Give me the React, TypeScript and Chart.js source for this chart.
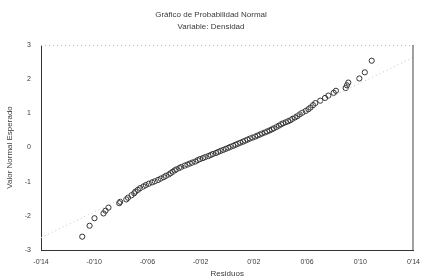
import React, { useEffect, useRef } from "react";
import { Chart, registerables } from "chart.js";

Chart.register(...registerables);

const titleText = "Gráfico de Probabilidad Normal";
const subtitleText = "Variable: Densidad";
const xAxisTitle = "Residuos";
const yAxisTitle = "Valor Normal Esperado";

const xTickValues = [-0.14, -0.1, -0.06, -0.02, 0.02, 0.06, 0.1, 0.14];
const xTickLabels = ["-0'14", "-0'10", "-0'06", "-0'02", "0'02", "0'06", "0'10", "0'14"];
const yTickValues = [-3, -2, -1, 0, 1, 2, 3];
const yTickLabels = ["-3", "-2", "-1", "0", "1", "2", "3"];

const residuals = [
  -0.109, -0.1035, -0.0998, -0.093, -0.0915, -0.0893, -0.0812, -0.0805, -0.0759, -0.0746,
  -0.072, -0.07, -0.069, -0.0672, -0.0655, -0.063, -0.0612, -0.059, -0.0565, -0.0545,
  -0.052, -0.05, -0.0478, -0.0462, -0.044, -0.0425, -0.041, -0.0395, -0.0382, -0.036,
  -0.0345, -0.032, -0.03, -0.0281, -0.0262, -0.024, -0.0222, -0.0205, -0.0183, -0.0165,
  -0.0142, -0.0125, -0.0108, -0.0085, -0.0068, -0.005, -0.003, -0.0011, 0.0008, 0.0025,
  0.0045, 0.0062, 0.008, 0.0098, 0.0118, 0.0135, 0.0152, 0.017, 0.019, 0.021,
  0.0228, 0.0245, 0.0262, 0.0283, 0.03, 0.0318, 0.0335, 0.035, 0.037, 0.0388,
  0.0405, 0.042, 0.044, 0.0458, 0.0475, 0.049, 0.051, 0.0527, 0.0545, 0.0565,
  0.059, 0.061, 0.0626, 0.0645, 0.0662, 0.0699, 0.0735, 0.076, 0.08, 0.0817,
  0.089, 0.09, 0.091, 0.0993, 0.1034, 0.1086,
];
const expectedNormal = [
  -2.61, -2.29, -2.07, -1.93, -1.85, -1.76, -1.63, -1.59, -1.52, -1.47,
  -1.4, -1.34, -1.29, -1.24, -1.19, -1.14, -1.1, -1.06, -1.02, -0.99,
  -0.95, -0.91, -0.87, -0.83, -0.79, -0.75, -0.71, -0.67, -0.64, -0.6,
  -0.57, -0.53, -0.5, -0.47, -0.44, -0.41, -0.37, -0.34, -0.31, -0.28,
  -0.25, -0.22, -0.19, -0.16, -0.13, -0.1, -0.07, -0.04, -0.01, 0.02,
  0.05, 0.08, 0.11, 0.14, 0.17, 0.2, 0.23, 0.26, 0.29, 0.32,
  0.35, 0.38, 0.41, 0.44, 0.47, 0.5, 0.53, 0.56, 0.6, 0.64,
  0.68, 0.71, 0.74, 0.77, 0.8, 0.84, 0.88, 0.92, 0.97, 1.02,
  1.07, 1.12, 1.17, 1.24, 1.3, 1.37, 1.45, 1.52, 1.6, 1.66,
  1.74, 1.82, 1.9, 2.02, 2.2, 2.54,
];

const refLineX = [-0.14, 0.14];
const refLineY = [-2.64, 2.64];

const FONT = "'Liberation Sans', Arial, sans-serif";
const TEXT = "#3a3a3a";

const framePlugin = {
  id: "frame",
  afterDraw(chart: any) {
    const { ctx, chartArea } = chart;
    ctx.save();
    ctx.strokeStyle = "#bbbbbb";
    ctx.lineWidth = 1;
    ctx.setLineDash([1, 3]);
    ctx.beginPath();
    ctx.moveTo(chartArea.left, chartArea.top + 0.5);
    ctx.lineTo(chartArea.right, chartArea.top + 0.5);
    ctx.stroke();
    ctx.setLineDash([]);
    ctx.strokeStyle = "#444444";
    ctx.beginPath();
    ctx.moveTo(chartArea.right - 0.5, chartArea.top);
    ctx.lineTo(chartArea.right - 0.5, chartArea.bottom);
    ctx.stroke();
    ctx.restore();
  },
};

export default function App() {
  const ref = useRef<HTMLCanvasElement | null>(null);

  useEffect(() => {
    document.body.style.margin = "0";
    const canvas = ref.current;
    if (!canvas) return;
    const points = residuals.map((x, i) => ({ x, y: expectedNormal[i] }));
    const line = refLineX.map((x, i) => ({ x, y: refLineY[i] }));
    const chart = new Chart(canvas, {
      type: "scatter",
      data: {
        datasets: [
          {
            data: line,
            showLine: true,
            borderColor: "#c4c4c4",
            borderWidth: 1,
            borderDash: [1, 3],
            pointRadius: 0,
            fill: false,
          },
          {
            data: points,
            pointRadius: 2.6,
            pointBorderWidth: 1,
            pointBorderColor: "#333333",
            pointBackgroundColor: "rgba(255,255,255,0)",
            borderColor: "#333333",
          },
        ],
      },
      options: {
        animation: false,
        responsive: false,
        layout: { padding: { left: 0, right: 6, top: 0, bottom: 0 } },
        plugins: {
          legend: { display: false },
          tooltip: { enabled: false },
          title: {
            display: true,
            text: titleText,
            color: TEXT,
            font: { family: FONT, size: 8, weight: "normal" },
            padding: { top: 10, bottom: 2 },
          },
          subtitle: {
            display: true,
            text: subtitleText,
            color: TEXT,
            font: { family: FONT, size: 8, weight: "normal" },
            padding: { top: 0, bottom: 13.8 },
          },
        },
        scales: {
          x: {
            type: "linear",
            min: -0.14,
            max: 0.14,
            afterBuildTicks: (scale: any) => {
              scale.ticks = xTickValues.map((v) => ({ value: v }));
            },
            afterFit: (scale: any) => {
              scale.height = 29;
            },
            ticks: {
              color: TEXT,
              font: { family: FONT, size: 7 },
              padding: 8,
              maxRotation: 0,
              autoSkip: false,
              callback: (v: any) => {
                const i = xTickValues.findIndex((t) => Math.abs(t - v) < 1e-9);
                return i >= 0 ? xTickLabels[i] : "";
              },
            },
            grid: { display: false, drawTicks: false },
            border: { display: true, color: "#333333", width: 1 },
            title: {
              display: true,
              text: xAxisTitle,
              color: TEXT,
              font: { family: FONT, size: 8 },
              padding: { top: 0, bottom: 0 },
            },
          },
          y: {
            type: "linear",
            min: -3,
            max: 3,
            afterBuildTicks: (scale: any) => {
              scale.ticks = yTickValues.map((v) => ({ value: v }));
            },
            afterFit: (scale: any) => {
              scale.width = 41;
            },
            ticks: {
              color: TEXT,
              font: { family: FONT, size: 7 },
              padding: 10,
              autoSkip: false,
              callback: (v: any) => {
                const i = yTickValues.findIndex((t) => Math.abs(t - v) < 1e-9);
                return i >= 0 ? yTickLabels[i] : "";
              },
            },
            grid: { display: false, drawTicks: false },
            border: { display: true, color: "#333333", width: 1 },
            title: {
              display: true,
              text: yAxisTitle,
              color: TEXT,
              font: { family: FONT, size: 8 },
              padding: { top: 5, bottom: 0 },
            },
          },
        },
      },
      plugins: [framePlugin],
    } as any);
    return () => chart.destroy();
  }, []);

  return (
    <div style={{ position: "absolute", left: 0, top: 0, width: 428, height: 279, background: "#fff" }}>
      <canvas ref={ref} width={428} height={279} style={{ width: 428, height: 279 }} />
    </div>
  );
}
